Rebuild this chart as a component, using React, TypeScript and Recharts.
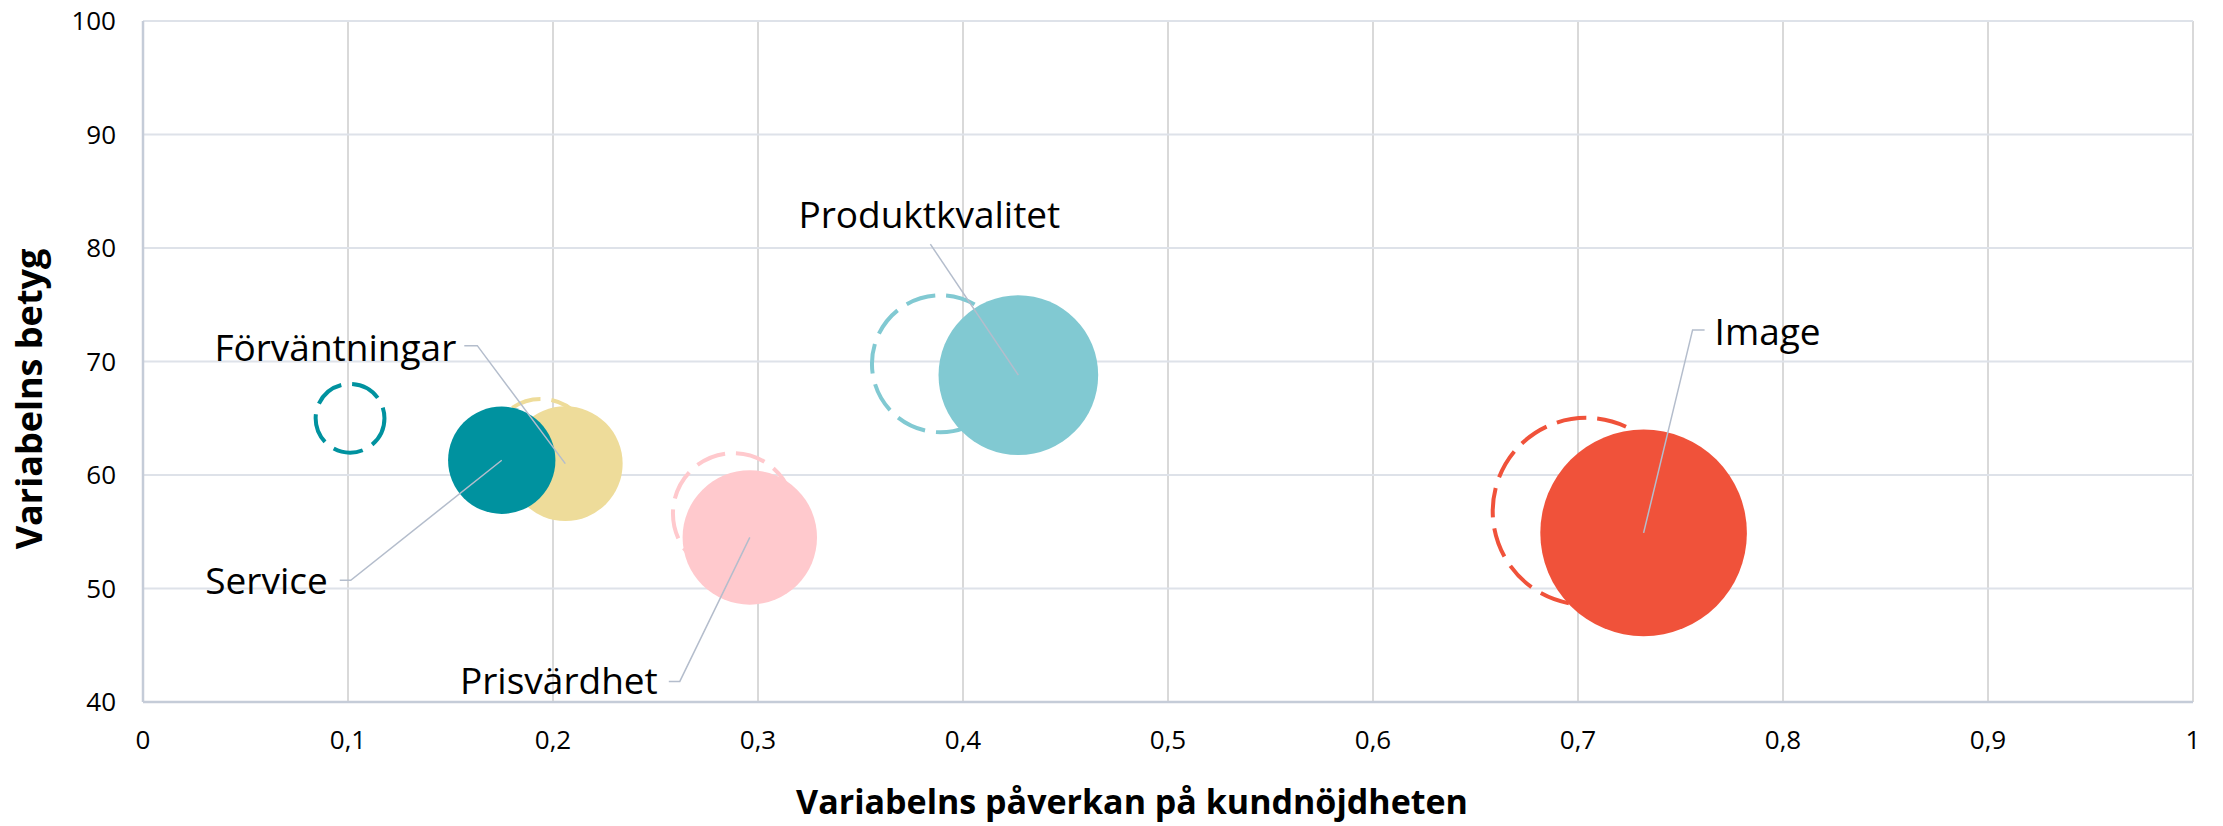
import React from 'react';
import { ScatterChart, Scatter, XAxis, YAxis, ZAxis, CartesianGrid } from 'recharts';

// kategorier och värden
const categories = ['Förväntningar', 'Service', 'Prisvärdhet', 'Produktkvalitet', 'Image'];

// nuvarande mätning (fyllda bubblor)
const impactNow = [0.206, 0.175, 0.296, 0.427, 0.732];
const scoreNow = [61.0, 61.3, 54.5, 68.8, 54.9];
const sizeNow = [0.225, 0.197, 0.309, 0.436, 0.73];

// föregående mätning (streckade bubblor)
const impactPrev = [0.194, 0.101, 0.288, 0.389, 0.704];
const scorePrev = [62.3, 65.0, 56.6, 69.8, 56.8];
const sizePrev = [0.171, 0.081, 0.25, 0.321, 0.598];

const xTicks = [0, 0.1, 0.2, 0.3, 0.4, 0.5, 0.6, 0.7, 0.8, 0.9, 1];
const yTicks = [40, 50, 60, 70, 80, 90, 100];

const nowData = categories.map((name, i) => ({ name, x: impactNow[i], y: scoreNow[i], z: sizeNow[i] }));
const prevData = categories.map((name, i) => ({ name, x: impactPrev[i], y: scorePrev[i], z: sizePrev[i] }));

const colors: Record<string, string> = {
  'Förväntningar': '#EEDC9A',
  'Service': '#00929F',
  'Prisvärdhet': '#FFC9CD',
  'Produktkvalitet': '#81C9D2',
  'Image': '#F0523A',
};

// etikettplacering relativt bubblans mitt (px)
const labelPos: Record<string, { tx: number; ty: number; anchor: string; line: number[][] }> = {
  'Förväntningar': { tx: -109, ty: -103, anchor: 'end', line: [[-101, -118], [-88, -118]] },
  'Service': { tx: -174, ty: 134, anchor: 'end', line: [[-162, 120], [-151, 120]] },
  'Prisvärdhet': { tx: -92, ty: 157, anchor: 'end', line: [[-81, 144], [-70, 144]] },
  'Produktkvalitet': { tx: -89, ty: -147, anchor: 'middle', line: [[-88, -131]] },
  'Image': { tx: 71, ty: -188, anchor: 'start', line: [[61, -203], [49, -203]] },
};

const fmt = (v: number) => String(v).replace('.', ',');

const radiusOf = (p: any) => (p.width ? p.width / 2 : Math.sqrt((p.size || 0) / Math.PI));

const FilledBubble = (props: any) => {
  const { cx, cy, payload } = props;
  return <circle cx={cx} cy={cy} r={radiusOf(props)} fill={colors[payload.name]} />;
};

const DashedBubble = (props: any) => {
  const { cx, cy, payload } = props;
  return (
    <circle
      cx={cx}
      cy={cy}
      r={radiusOf(props)}
      fill="none"
      stroke={colors[payload.name]}
      strokeWidth={4}
      strokeDasharray="30 11"
    />
  );
};

const BubbleLabel = (props: any) => {
  const { cx, cy, payload } = props;
  const pos = labelPos[payload.name];
  const pts = [...pos.line.map(([dx, dy]) => `${cx + dx},${cy + dy}`), `${cx},${cy}`].join(' ');
  return (
    <g>
      <polyline points={pts} fill="none" stroke="#B4BDCC" strokeWidth={1.5} />
      <text
        x={cx + pos.tx}
        y={cy + pos.ty}
        textAnchor={pos.anchor as any}
        fontSize={37}
        fontFamily="'Open Sans', sans-serif"
        fill="#000"
      >
        {payload.name}
      </text>
    </g>
  );
};

export default function App() {
  return (
    <div style={{ position: 'absolute', left: 0, top: 0, background: '#fff' }}>
      <ScatterChart width={2223} height={826} margin={{ top: 21, right: 30, bottom: 0, left: 0 }}>
        <CartesianGrid horizontal={false} stroke="#D9D9D9" strokeWidth={2} />
        <CartesianGrid vertical={false} stroke="#DEE2E9" strokeWidth={2} />
        <XAxis
          type="number"
          dataKey="x"
          domain={[0, 1]}
          ticks={xTicks}
          tickFormatter={fmt}
          height={124}
          tickSize={0}
          tickMargin={29}
          axisLine={{ stroke: '#C5CCD8', strokeWidth: 2.5 }}
          tick={{ fill: '#000', fontSize: 26, fontFamily: "'Open Sans', sans-serif" }}
          interval={0}
        />
        <YAxis
          type="number"
          dataKey="y"
          domain={[40, 100]}
          ticks={yTicks}
          width={143}
          tickSize={0}
          tickMargin={27}
          axisLine={{ stroke: '#C5CCD8', strokeWidth: 2.5 }}
          tick={{ fill: '#000', fontSize: 26, fontFamily: "'Open Sans', sans-serif" }}
          interval={0}
        />
        <ZAxis type="number" dataKey="z" domain={[0, 1]} range={[0, 45923]} />
        <Scatter data={prevData} shape={<DashedBubble />} isAnimationActive={false} />
        <Scatter data={nowData} shape={<FilledBubble />} isAnimationActive={false} />
        <Scatter data={nowData} shape={<BubbleLabel />} isAnimationActive={false} />
        <text
          x={1132}
          y={814}
          textAnchor="middle"
          fontSize={34}
          fontWeight="bold"
          fontFamily="'Open Sans', sans-serif"
          fill="#000"
        >
          Variabelns påverkan på kundnöjdheten
        </text>
        <text
          x={42}
          y={399}
          transform="rotate(-90 42 399)"
          textAnchor="middle"
          fontSize={36}
          fontWeight="bold"
          fontFamily="'Open Sans', sans-serif"
          fill="#000"
        >
          Variabelns betyg
        </text>
      </ScatterChart>
    </div>
  );
}
